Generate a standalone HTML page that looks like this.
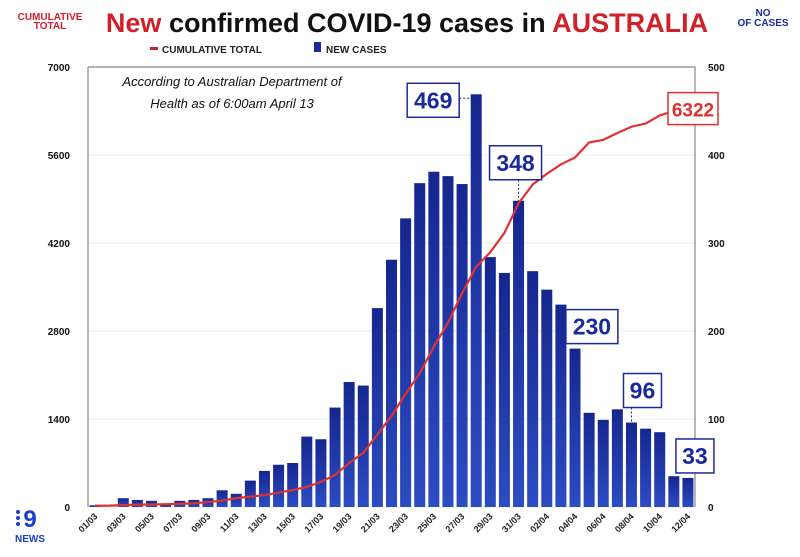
<!DOCTYPE html>
<html><head><meta charset="utf-8"><style>
body{margin:0;background:#fff;width:800px;height:552px;overflow:hidden;font-family:"Liberation Sans",sans-serif}
</style></head><body>
<svg id="c" width="800" height="552" xmlns="http://www.w3.org/2000/svg">
<defs><linearGradient id="bg" x1="0" y1="0" x2="0" y2="1"><stop offset="0" stop-color="#16268f"/><stop offset="1" stop-color="#2c4cc2"/></linearGradient></defs>
<text x="50" y="20" font-size="10" font-weight="bold" fill="#d0202a" text-anchor="middle">CUMULATIVE</text>
<text x="50" y="29" font-size="10" font-weight="bold" fill="#d0202a" text-anchor="middle">TOTAL</text>
<text x="407" y="32" font-size="27" font-weight="bold" text-anchor="middle" fill="#111"><tspan fill="#d0202a">New</tspan> confirmed COVID-19 cases in <tspan fill="#d0202a">AUSTRALIA</tspan></text>
<text x="763" y="16" font-size="10" font-weight="bold" fill="#1a2a9a" text-anchor="middle">NO</text>
<text x="763" y="26" font-size="10" font-weight="bold" fill="#1a2a9a" text-anchor="middle">OF CASES</text>
<g>
<rect x="150" y="47" width="8" height="3" fill="#d0202a"/>
<text x="162" y="53" font-size="10" font-weight="bold" fill="#222">CUMULATIVE TOTAL</text>
<rect x="314" y="42" width="7" height="10" fill="#1a2a9a"/>
<text x="326" y="53" font-size="10" font-weight="bold" fill="#222">NEW CASES</text>
</g>
<g id="grid"></g><g id="bars"></g><g id="line"></g><g id="axes"></g>
<text x="232" y="86" font-size="13" font-style="italic" fill="#111" text-anchor="middle">According to Australian Department of</text>
<text x="232" y="108" font-size="13" font-style="italic" fill="#111" text-anchor="middle">Health as of 6:00am April 13</text>
<g id="ann"></g>
<g>
<text x="30" y="527" font-size="24" font-weight="bold" fill="#1a3fd0" text-anchor="middle">9</text>
<circle cx="18" cy="518" r="2" fill="#1a3fd0"/><circle cx="18" cy="524" r="2" fill="#1a3fd0"/><circle cx="18" cy="512" r="2" fill="#1a3fd0"/>
<text x="30" y="542" font-size="10" font-weight="bold" fill="#1a3fd0" text-anchor="middle">NEWS</text>
</g>
</svg>
<script>
const dates=["01/03","02/03","03/03","04/03","05/03","06/03","07/03","08/03","09/03","10/03","11/03","12/03","13/03","14/03","15/03","16/03","17/03","18/03","19/03","20/03","21/03","22/03","23/03","24/03","25/03","26/03","27/03","28/03","29/03","30/03","31/03","01/04","02/04","03/04","04/04","05/04","06/04","07/04","08/04","09/04","10/04","11/04","12/04"];
const newCases=[2,0,10,8,7,3,7,8,10,19,15,30,41,48,50,80,77,113,142,138,226,281,328,368,381,376,367,469,284,266,348,268,247,230,180,107,99,111,96,89,85,35,33];
const cumulative=[20,22,30,38,40,45,50,60,80,100,140,165,190,230,270,320,400,510,700,860,1150,1450,1800,2130,2550,2930,3400,3820,4055,4360,4830,5130,5300,5450,5560,5800,5840,5950,6050,6100,6230,6300,6322];
const leftTicks=[0,1400,2800,4200,5600,7000];
const rightTicks=[0,100,200,300,400,500];
const callouts=[[27,"469"],[30,"348"],[33,"230"],[38,"96"],[42,"33"]];
const NS="http://www.w3.org/2000/svg";
const X0=88,X1=695,Y0=507,Y1=67,bw=(X1-X0)/dates.length;
const xc=i=>X0+(i+0.5)*bw;
const yL=v=>Y0-(Y0-Y1)*v/7000;
const yR=v=>Y0-(Y0-Y1)*v/500;
function mk(p,t,a){const e=document.createElementNS(NS,t);for(const k in a)e.setAttribute(k,a[k]);document.getElementById(p).appendChild(e);return e;}
leftTicks.forEach(v=>{const g=mk('grid','line',{x1:X0,x2:X1,y1:yL(v),y2:yL(v),stroke:'#eee','stroke-width':1});


const t=mk('axes','text',{x:X0-18,y:yL(v)+4,'font-size':10,'font-weight':'bold','text-anchor':'end',fill:'#111'});t.textContent=v;

});
rightTicks.forEach(v=>{const t=mk('axes','text',{x:X1+13,y:yR(v)+4,'font-size':10,'font-weight':'bold',fill:'#111'});t.textContent=v;

});
const ax=mk('axes','path',{d:`M${X0} ${Y1}H${X1}V${Y0}M${X0} ${Y1}V${Y0}`,stroke:'#888',fill:'none','stroke-width':1.2});


newCases.forEach((v,i)=>{const r=mk('bars','rect',{x:xc(i)-5.5,y:yR(v),width:11,height:Y0-yR(v),fill:'url(#bg)'});

});
dates.forEach((d,i)=>{if(i%2)return;const t=mk('axes','text',{x:xc(i)+3,y:Y0+10,'font-size':9,'font-weight':'bold',fill:'#222','text-anchor':'end',transform:`rotate(-45 ${xc(i)+3} ${Y0+10})`});t.textContent=d;

});
const ln=mk('line','polyline',{points:cumulative.map((v,i)=>xc(i)+','+yL(v)).join(' '),fill:'none',stroke:'#e03030','stroke-width':2.2,'stroke-linejoin':'round'});


callouts.forEach(([i,l],k)=>{const by=yR(newCases[i]);let bx,cy;
const w=l.length*14+10,h=34;
if(k===0){bx=xc(i)-69;cy=by+6;}
if(k===1){bx=xc(i)-29;cy=by-38;}
if(k===2){bx=xc(i)+5;cy=by+22;}
if(k===3){bx=xc(i)-8;cy=by-32;}
if(k===4){bx=xc(i)-12;cy=by-22;}
const r=mk('ann','rect',{x:bx,y:cy-h/2,width:w,height:h,fill:'#fff',stroke:'#1a2a9a','stroke-width':1.5});


const t=mk('ann','text',{x:bx+w/2,y:cy+8,'font-size':23,'font-weight':'bold',fill:'#1a2a9a','text-anchor':'middle'});t.textContent=l;


if(k===0)mk('ann','line',{x1:bx+w,x2:xc(i)-5,y1:by+4,y2:by+4,stroke:'#1a2a9a','stroke-dasharray':'2 2'});
if(k===1||k===3)mk('ann','line',{x1:xc(i),x2:xc(i),y1:cy+h/2,y2:by,stroke:'#1a2a9a','stroke-dasharray':'2 2'});});
const last=cumulative.length-1;
const rb=mk('ann','rect',{x:668,y:yL(cumulative[last])-17,width:50,height:32,fill:'#fff',stroke:'#e03030','stroke-width':1.5});


const rt=mk('ann','text',{x:693,y:yL(cumulative[last])+7,'font-size':19,'font-weight':'bold',fill:'#e03030','text-anchor':'middle'});rt.textContent=cumulative[last];


</script>
</body></html>
